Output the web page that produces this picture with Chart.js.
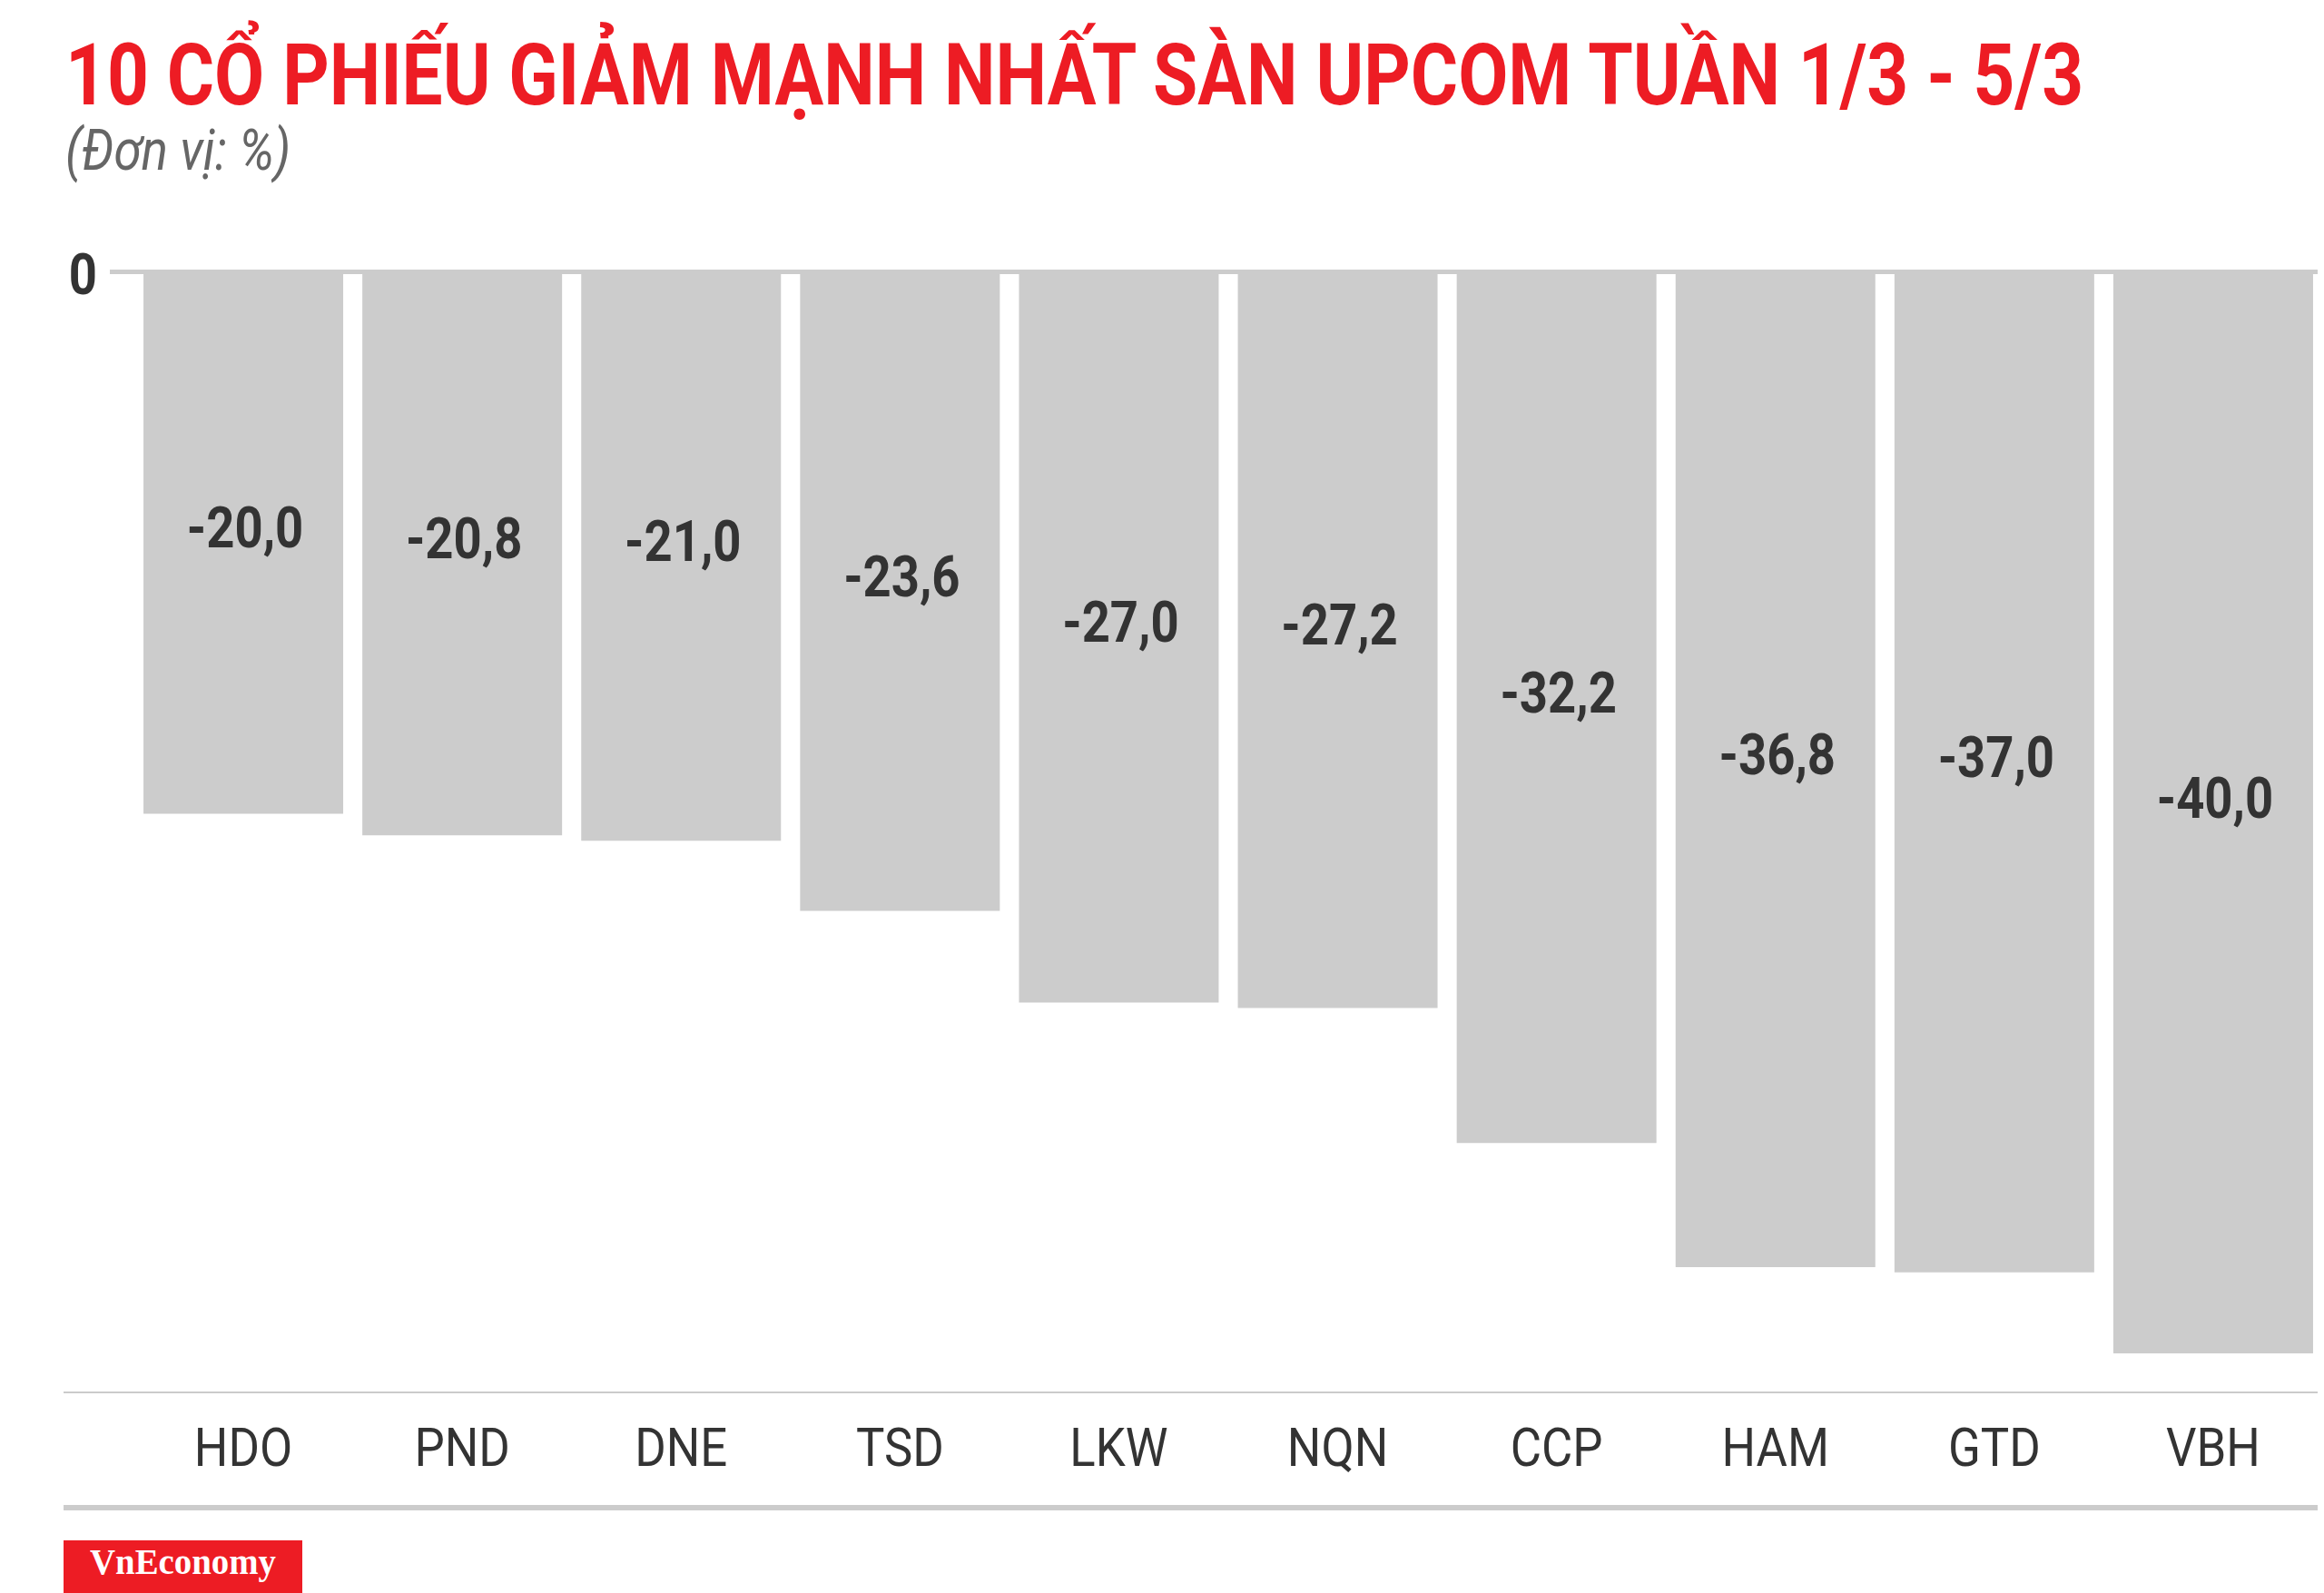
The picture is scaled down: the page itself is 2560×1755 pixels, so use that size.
<!DOCTYPE html>
<html>
<head>
<meta charset="utf-8">
<script src="https://cdn.jsdelivr.net/npm/chart.js@4/dist/chart.umd.min.js"></script>
<style>
  html, body { margin: 0; padding: 0; background: #fff; }
  body { width: 2560px; height: 1755px; position: relative; overflow: hidden; }
  #chart { position: absolute; left: 0; top: 0; }
  .txt { position: absolute; white-space: nowrap; line-height: 1; transform-origin: 0 0; }
  #title { left: 72px; top: 36px; font-family: Roboto, sans-serif; font-weight: 700; font-size: 94px; color: #ED1C24; }
  #subtitle { left: 72px; top: 135px; font-family: Roboto, sans-serif; font-style: italic; font-size: 62px; color: #666666; }
  #logo { position: absolute; left: 70px; top: 1697px; width: 263px; height: 58px; background: #ED1C24; }
  #logoText { left: 29px; top: 4px; font-family: "Liberation Serif", serif; font-weight: 700; font-size: 40px; color: #fff; }
</style>
</head>
<body>
<canvas id="chart" width="2560" height="1755"></canvas>
<div id="title" class="txt">10 CỔ PHIẾU GIẢM MẠNH NHẤT SÀN UPCOM TUẦN 1/3 - 5/3</div>
<div id="subtitle" class="txt">(Đơn vị: %)</div>
<div id="logo"><div id="logoText" class="txt">VnEconomy</div></div>
<script>
// ---- data ----
const categories = ['HDO', 'PND', 'DNE', 'TSD', 'LKW', 'NQN', 'CCP', 'HAM', 'GTD', 'VBH'];
const changes = [-20.0, -20.8, -21.0, -23.6, -27.0, -27.2, -32.2, -36.8, -37.0, -40.0];
const yTicks = [0];
const yMin = -40, yMax = 0;

// ---- helpers ----
const mctx = document.createElement('canvas').getContext('2d');
function inkWidth(font, text) {
  mctx.font = font;
  const m = mctx.measureText(text);
  return m.actualBoundingBoxLeft + m.actualBoundingBoxRight;
}
function fitHtml(id, font, targetWidth) {
  const el = document.getElementById(id);
  const w = inkWidth(font, el.textContent);
  el.style.transform = 'scaleX(' + (targetWidth / w) + ')';
}
fitHtml('title', '700 94px Roboto', 2218);
fitHtml('subtitle', 'italic 400 62px Roboto', 243);
fitHtml('logoText', '700 40px "Liberation Serif"', 205);

const fmt = v => v.toFixed(1).replace('.', ',');
const VAL_FONT = '700 63px Roboto';
const CAT_FONT = '400 60px Roboto';
const valScale = 124 / inkWidth(VAL_FONT, '-20,0');
const catScale = 102 / inkWidth(CAT_FONT, 'HDO');

function drawScaled(ctx, text, x, y, sx, font, align) {
  ctx.save();
  ctx.font = font;
  ctx.textAlign = align;
  ctx.textBaseline = 'alphabetic';
  ctx.translate(x, y);
  ctx.scale(sx, 1);
  ctx.fillText(text, 0, 0);
  ctx.restore();
}

const deco = {
  id: 'deco',
  beforeDatasetsDraw(chart) {
    const ctx = chart.ctx;
    const y = chart.scales.y;
    const y0 = y.getPixelForValue(0);
    ctx.save();
    ctx.fillStyle = '#cccccc';
    ctx.fillRect(121, y0 - 5, 2553 - 121, 5);
    ctx.fillStyle = '#cbcbcb';
    ctx.fillRect(70, y.bottom + 42, 2553 - 70, 2);
    ctx.fillStyle = '#cccccc';
    ctx.fillRect(70, y.bottom + 167, 2553 - 70, 6);
    ctx.restore();
  },
  afterDatasetsDraw(chart) {
    const ctx = chart.ctx;
    const ys = chart.scales.y;
    const meta = chart.getDatasetMeta(0);
    ctx.save();
    ctx.fillStyle = '#333333';
    // y tick label(s)
    yTicks.forEach(t => {
      drawScaled(ctx, String(t), 107, ys.getPixelForValue(t) + 22, valScale, VAL_FONT, 'right');
    });
    meta.data.forEach((bar, i) => {
      const mid = (bar.y + bar.base) / 2 - 18;
      drawScaled(ctx, fmt(changes[i]), bar.x + 2, mid + 22, valScale, VAL_FONT, 'center');
      drawScaled(ctx, categories[i], bar.x, ys.bottom + 124, catScale, CAT_FONT, 'center');
    });
    ctx.restore();
  }
};

new Chart(document.getElementById('chart'), {
  type: 'bar',
  data: {
    labels: categories,
    datasets: [{
      data: changes,
      backgroundColor: '#cccccc',
      borderWidth: 0,
      categoryPercentage: 1.0,
      barPercentage: 0.9125
    }]
  },
  options: {
    responsive: false,
    animation: false,
    devicePixelRatio: 1,
    layout: { padding: { left: 147.5, right: 1.5, top: 302, bottom: 264 } },
    plugins: { legend: { display: false }, tooltip: { enabled: false } },
    scales: {
      x: { display: false },
      y: { display: false, min: yMin, max: yMax }
    }
  },
  plugins: [deco]
});
</script>
</body>
</html>
